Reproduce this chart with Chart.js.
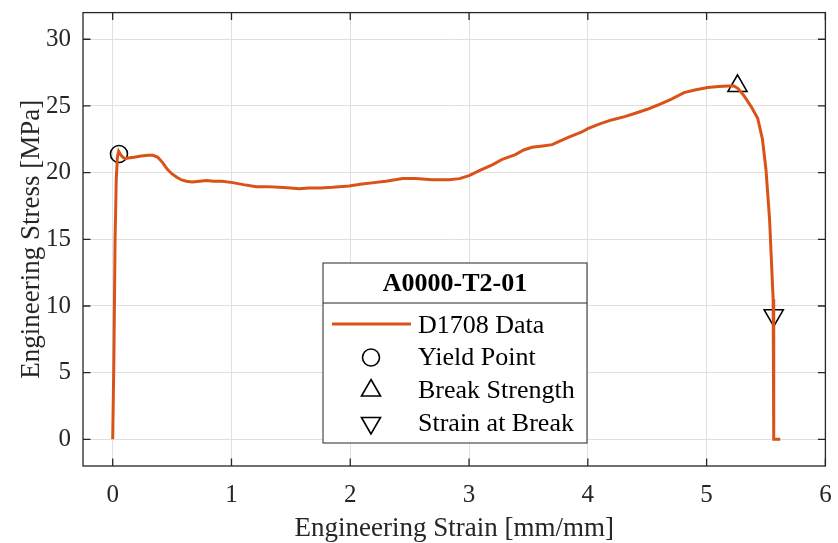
<!DOCTYPE html>
<html>
<head>
<meta charset="utf-8">
<script src="https://cdn.jsdelivr.net/npm/chart.js@4.4.1/dist/chart.umd.min.js"></script>
<style>
    html, body { margin: 0; padding: 0; background: #ffffff; }
    #wrap { width: 838px; height: 543px; }
</style>
</head>
<body>
<div id="wrap"><canvas id="stress-chart" width="838" height="543"></canvas></div>
<script>
// Test data
const strain = [0, 0.01, 0.02, 0.03, 0.04, 0.05, 0.07, 0.10, 0.13, 0.18, 0.24, 0.30, 0.34, 0.38, 0.42,
    0.46, 0.50, 0.54, 0.58, 0.62, 0.67, 0.73, 0.79, 0.85, 0.92, 1.01, 1.10, 1.21, 1.30, 1.40,
    1.50, 1.57, 1.65, 1.75, 1.85, 1.99, 2.10, 2.20, 2.30, 2.44, 2.55, 2.69, 2.83, 2.92, 3.00,
    3.10, 3.20, 3.28, 3.39, 3.46, 3.53, 3.62, 3.70, 3.75, 3.85, 3.95, 4.00, 4.10, 4.20, 4.31,
    4.40, 4.50, 4.59, 4.70, 4.81, 4.90, 5.01, 5.10, 5.18, 5.23, 5.265, 5.32, 5.375, 5.43, 5.47,
    5.50, 5.53, 5.545, 5.56, 5.565, 5.565, 5.62];
const stress = [0, 6, 15, 19.5, 21.2, 21.6, 21.3, 21.05, 21.1, 21.15, 21.25, 21.3, 21.3, 21.15, 20.75,
    20.25, 19.9, 19.65, 19.45, 19.35, 19.3, 19.35, 19.4, 19.35, 19.35, 19.25, 19.1, 18.95, 18.95, 18.9,
    18.85, 18.8, 18.85, 18.85, 18.9, 19.0, 19.15, 19.25, 19.35, 19.55, 19.55, 19.46, 19.46, 19.55, 19.78,
    20.2, 20.6, 21.0, 21.35, 21.7, 21.9, 22.0, 22.1, 22.3, 22.7, 23.05, 23.3, 23.65, 23.95, 24.2,
    24.45, 24.75, 25.07, 25.5, 26.0, 26.2, 26.38, 26.45, 26.5, 26.5, 26.3, 25.7, 24.95, 24.08, 22.5,
    20.2, 16.5, 13.5, 10.5, 9.3, 0, 0];

const yieldPoint = [0.053, 21.4];
const breakStrength = [5.26, 26.5];
const strainAtBreak = [5.565, 9.3];

const seriesNames = ['D1708 Data', 'Yield Point', 'Break Strength', 'Strain at Break'];
const legendTitle = 'A0000-T2-01';

const xTicks = [0, 1, 2, 3, 4, 5, 6];
const yTicks = [0, 5, 10, 15, 20, 25, 30];

const lineColor = '#d95319';
const axisColor = '#262626';
const serif = "'Liberation Serif', 'Times New Roman', serif";

// box round the axes with inward ticks, like the original plot
const framePlugin = {
    id: 'frame',
    afterDatasetsDraw(chart) {
        const { ctx, chartArea: a, scales: { x, y } } = chart;
        const tl = 7.5;
        ctx.save();
        ctx.strokeStyle = axisColor;
        ctx.lineWidth = 1.3;
        ctx.strokeRect(a.left, a.top, a.right - a.left, a.bottom - a.top);
        ctx.beginPath();
        xTicks.forEach(v => {
            const px = x.getPixelForValue(v);
            ctx.moveTo(px, a.bottom); ctx.lineTo(px, a.bottom - tl);
            ctx.moveTo(px, a.top); ctx.lineTo(px, a.top + tl);
        });
        yTicks.forEach(v => {
            const py = y.getPixelForValue(v);
            ctx.moveTo(a.left, py); ctx.lineTo(a.left + tl, py);
            ctx.moveTo(a.right, py); ctx.lineTo(a.right - tl, py);
        });
        ctx.stroke();
        ctx.restore();
    }
};

const legendPlugin = {
    id: 'boxLegend',
    afterDraw(chart) {
        const { ctx } = chart;
        const left = 323, right = 587, top = 263, bottom = 443, divider = 303;
        const rows = [326, 358.5, 391.5, 424];
        ctx.save();
        ctx.fillStyle = '#ffffff';
        ctx.fillRect(left, top, right - left, bottom - top);
        ctx.strokeStyle = axisColor;
        ctx.lineWidth = 1;
        ctx.strokeRect(left, top, right - left, bottom - top);
        ctx.beginPath();
        ctx.moveTo(left, divider); ctx.lineTo(right, divider);
        ctx.stroke();

        ctx.fillStyle = '#000000';
        ctx.textAlign = 'center';
        ctx.textBaseline = 'middle';
        ctx.font = 'bold 26px ' + serif;
        ctx.fillText(legendTitle, (left + right) / 2, 284);

        ctx.textAlign = 'left';
        ctx.font = '26px ' + serif;
        seriesNames.forEach((name, i) => {
            const ry = rows[i];
            if (i === 0) {
                ctx.strokeStyle = lineColor;
                ctx.lineWidth = 3;
                ctx.beginPath();
                ctx.moveTo(332, ry - 2); ctx.lineTo(411, ry - 2);
                ctx.stroke();
            } else {
                const ds = chart.data.datasets[i];
                ctx.fillStyle = 'rgba(0,0,0,0)';
                ctx.strokeStyle = '#000000';
                ctx.lineWidth = ds.borderWidth;
                Chart.helpers.drawPoint(ctx, {
                    pointStyle: ds.pointStyle,
                    radius: ds.pointRadius,
                    rotation: ds.rotation || 0,
                    borderWidth: ds.borderWidth
                }, 371, ry - 1);
            }
            ctx.fillStyle = '#000000';
            ctx.fillText(name, 418, ry);
        });
        ctx.restore();
    }
};

const markerBase = {
    showLine: false,
    borderColor: '#000000',
    backgroundColor: 'rgba(0,0,0,0)',
    borderWidth: 1.6,
    pointHoverRadius: 0
};

const ctx = document.getElementById('stress-chart').getContext('2d');
new Chart(ctx, {
    type: 'scatter',
    data: {
        datasets: [
            {
                label: seriesNames[0],
                data: strain.map((s, i) => ({ x: s, y: stress[i] })),
                showLine: true,
                borderColor: lineColor,
                borderWidth: 3,
                pointRadius: 0,
                tension: 0,
            },
            { ...markerBase, label: seriesNames[1], data: [{ x: yieldPoint[0], y: yieldPoint[1] }],
              pointStyle: 'circle', pointRadius: 8.5 },
            { ...markerBase, label: seriesNames[2], data: [{ x: breakStrength[0], y: breakStrength[1] }],
              pointStyle: 'triangle', pointRadius: 11 },
            { ...markerBase, label: seriesNames[3], data: [{ x: strainAtBreak[0], y: strainAtBreak[1] }],
              pointStyle: 'triangle', pointRadius: 11, rotation: 180 },
        ],
    },
    options: {
        responsive: false,
        animation: false,
        events: [],
        layout: { padding: { left: 0, right: 8, top: 8, bottom: 0 } },
        plugins: {
            legend: { display: false },
            tooltip: { enabled: false },
        },
        scales: {
            x: {
                type: 'linear',
                min: -0.25,
                max: 6,
                afterBuildTicks: scale => { scale.ticks = xTicks.map(v => ({ value: v })); },
                afterFit: scale => {
                    scale.height = 77;
                    scale.paddingLeft = 0;
                    scale.paddingRight = 0;
                },
                grid: { color: '#e0e0e0', lineWidth: 1, drawTicks: false },
                border: { display: false },
                ticks: { padding: 14, color: axisColor, font: { family: serif, size: 25 } },
                title: {
                    display: true,
                    text: 'Engineering Strain [mm/mm]',
                    color: axisColor,
                    font: { family: serif, size: 27, lineHeight: 1.05 },
                    padding: { top: 0, bottom: 0 },
                },
            },
            y: {
                min: -2,
                max: 32,
                afterBuildTicks: scale => { scale.ticks = yTicks.map(v => ({ value: v })); },
                afterFit: scale => {
                    scale.width = 83;
                    scale.paddingTop = 0;
                    scale.paddingBottom = 0;
                },
                grid: { color: '#e0e0e0', lineWidth: 1, drawTicks: false },
                border: { display: false },
                ticks: { padding: 12, color: axisColor, font: { family: serif, size: 25 } },
                title: {
                    display: true,
                    text: 'Engineering Stress [MPa]',
                    color: axisColor,
                    font: { family: serif, size: 27, lineHeight: 1.1 },
                    padding: { top: 17, bottom: 0 },
                },
            },
        },
    },
    plugins: [framePlugin, legendPlugin],
});
</script>
</body>
</html>
